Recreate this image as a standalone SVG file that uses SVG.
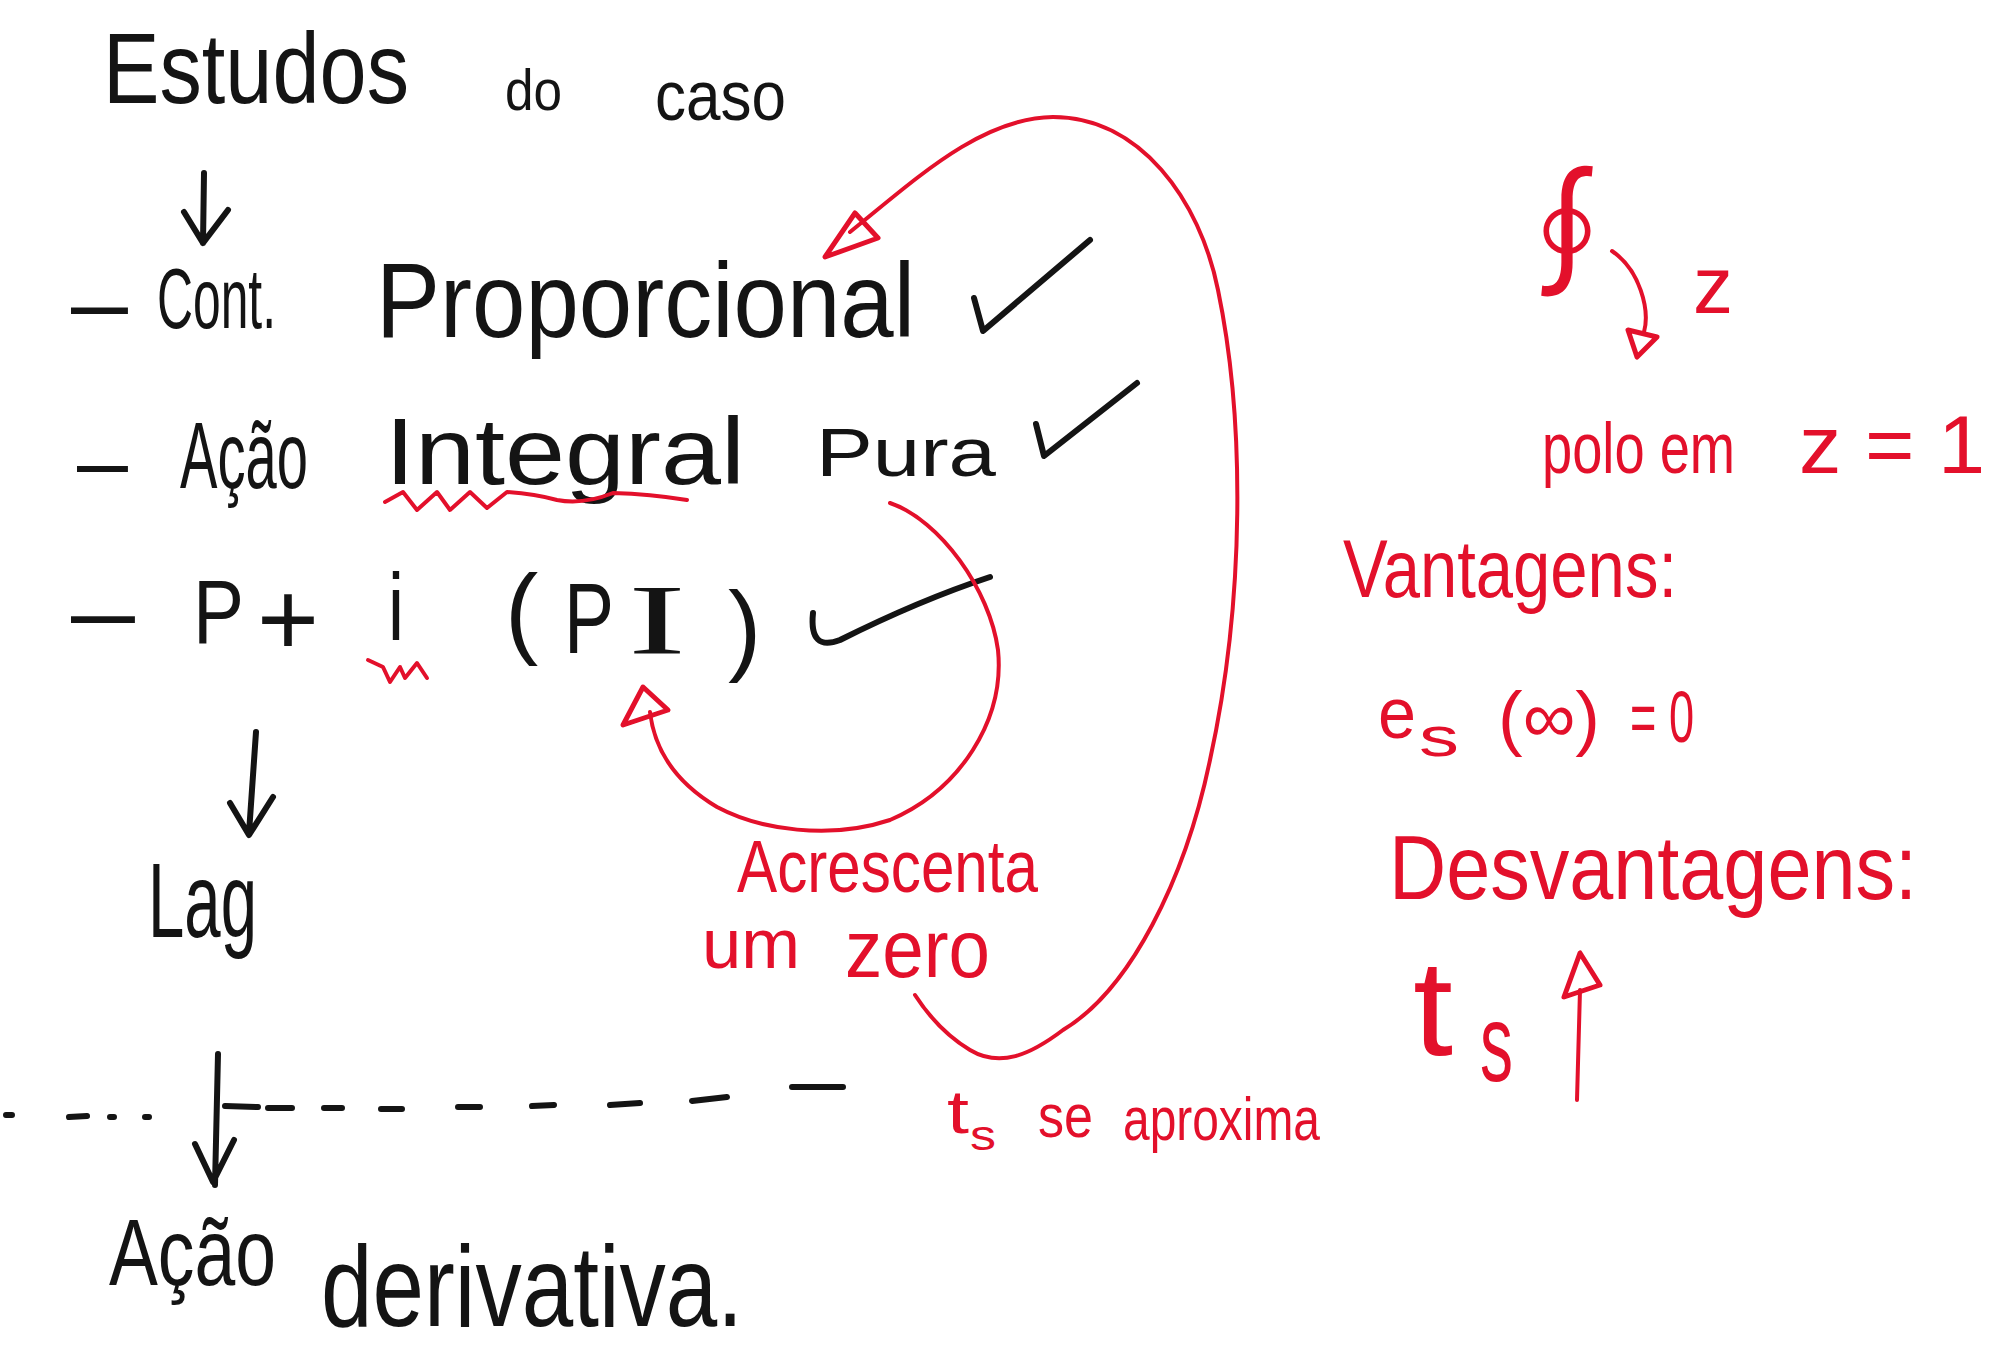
<svg xmlns="http://www.w3.org/2000/svg" width="2015" height="1359" viewBox="0 0 2015 1359">
<style>
text { font-family: "Liberation Sans", "DejaVu Sans", sans-serif; }
.k { fill: #141414; }
.r { fill: #e3102b; }
.ks { fill: none; stroke: #141414; stroke-width: 6; stroke-linecap: round; stroke-linejoin: round; }
.rs { fill: none; stroke: #e3102b; stroke-width: 4; stroke-linecap: round; stroke-linejoin: round; }
.rh { fill: none; stroke: #e3102b; stroke-width: 5; stroke-linejoin: round; }
</style>
<rect width="2015" height="1359" fill="#ffffff"/>

<g id="title">
  <text class="k" x="103" y="103" font-size="100" textLength="306" lengthAdjust="spacingAndGlyphs">Estudos</text>
  <text class="k" x="505" y="110" font-size="58" textLength="57" lengthAdjust="spacingAndGlyphs">do</text>
  <text class="k" x="655" y="120" font-size="70" textLength="131" lengthAdjust="spacingAndGlyphs">caso</text>
</g>

<g id="item-proporcional">
  <text class="k" x="71" y="335" font-size="96" textLength="57" lengthAdjust="spacingAndGlyphs">–</text>
  <text class="k" x="157" y="328" font-size="85" textLength="119" lengthAdjust="spacingAndGlyphs">Cont.</text>
  <text class="k" x="376" y="337" font-size="105" textLength="539" lengthAdjust="spacingAndGlyphs">Proporcional</text>
  <path class="ks" d="M974,298 L983,331 L1090,240"/>
</g>

<g id="item-integral">
  <text class="k" x="77" y="492" font-size="90" textLength="51" lengthAdjust="spacingAndGlyphs">–</text>
  <text class="k" x="180" y="488" font-size="95" textLength="128" lengthAdjust="spacingAndGlyphs">Ação</text>
  <text class="k" x="385" y="484" font-size="95" textLength="360" lengthAdjust="spacingAndGlyphs">Integral</text>
  <text class="k" x="816" y="476" font-size="68" textLength="180" lengthAdjust="spacingAndGlyphs">Pura</text>
  <path class="ks" d="M1036,424 L1044,456 L1137,383"/>
  <path class="rs" d="M385,502 L403,492 L417,510 L437,492 L450,510 L470,492 L487,508 L507,492 Q535,494 557,500 Q583,505 613,493 Q650,494 687,500"/>
</g>

<g id="item-pi">
  <text class="k" x="71" y="645" font-size="100" textLength="64" lengthAdjust="spacingAndGlyphs">–</text>
  <text class="k" x="193" y="643" font-size="90" textLength="51" lengthAdjust="spacingAndGlyphs">P</text>
  <text class="k" x="257" y="655" font-size="106" textLength="62" lengthAdjust="spacingAndGlyphs">+</text>
  <text class="k" x="388" y="640" font-size="95" textLength="16" lengthAdjust="spacingAndGlyphs">i</text>
  <path class="rs" d="M368,660 L383,667 L390,682 L400,667 L405,678 L417,663 L427,678"/>
  <text class="k" font-size="100"><tspan x="505" y="645">(</tspan><tspan x="564" y="653" textLength="50" lengthAdjust="spacingAndGlyphs">P</tspan><tspan x="628" y="653" font-family="Liberation Serif, serif" textLength="58" lengthAdjust="spacingAndGlyphs">I</tspan><tspan x="728" y="662">)</tspan></text>
  <path class="ks" d="M813,613 Q809,652 840,640 Q920,600 990,577"/>
</g>

<g id="item-lag">
  <text class="k" x="148" y="937" font-size="105" textLength="109" lengthAdjust="spacingAndGlyphs">Lag</text>
</g>

<g id="item-derivativa">
  <text class="k" x="109" y="1285" font-size="95" textLength="167" lengthAdjust="spacingAndGlyphs">Ação</text>
  <text class="k" x="321" y="1326" font-size="115" textLength="422" lengthAdjust="spacingAndGlyphs">derivativa.</text>
</g>

<g id="notes-red">
  <text class="r" x="737" y="892" font-size="75" textLength="301" lengthAdjust="spacingAndGlyphs">Acrescenta</text>
  <text class="r" x="702" y="968" font-size="70" textLength="98" lengthAdjust="spacingAndGlyphs">um</text>
  <text class="r" x="845" y="977" font-size="82" textLength="145" lengthAdjust="spacingAndGlyphs">zero</text>
  <text class="r" font-size="62"><tspan x="947" y="1133" textLength="22" lengthAdjust="spacingAndGlyphs">t</tspan><tspan x="970" y="1150" font-size="42" textLength="26" lengthAdjust="spacingAndGlyphs">s</tspan><tspan x="1038" y="1137" textLength="55" lengthAdjust="spacingAndGlyphs">se</tspan><tspan x="1123" y="1140" textLength="197" lengthAdjust="spacingAndGlyphs">aproxima</tspan></text>
</g>

<g id="notes-right">
  <text class="r" x="1497" y="284" font-size="140" style="font-family:'Noto Sans CJK JP','DejaVu Sans',sans-serif">∮</text>
  <text class="r" x="1693" y="313" font-size="80" textLength="40" lengthAdjust="spacingAndGlyphs">z</text>
  <text class="r" x="1542" y="473" font-size="72" textLength="193" lengthAdjust="spacingAndGlyphs">polo em</text>
  <text class="r" x="1799" y="473" font-size="82" textLength="186" lengthAdjust="spacingAndGlyphs">z = 1</text>
  <text class="r" x="1343" y="597" font-size="82" textLength="334" lengthAdjust="spacingAndGlyphs">Vantagens:</text>
  <text class="r" font-size="72"><tspan x="1378" y="738" textLength="38" lengthAdjust="spacingAndGlyphs">e</tspan><tspan x="1419" y="756" font-size="55" textLength="40" lengthAdjust="spacingAndGlyphs">s</tspan><tspan x="1498" y="742" textLength="102" lengthAdjust="spacingAndGlyphs">(∞)</tspan><tspan x="1630" y="742" textLength="64" lengthAdjust="spacingAndGlyphs">= 0</tspan></text>
  <text class="r" x="1389" y="899" font-size="90" textLength="528" lengthAdjust="spacingAndGlyphs">Desvantagens:</text>
  <text class="r" font-size="135"><tspan x="1413" y="1055" textLength="40" lengthAdjust="spacingAndGlyphs">t</tspan><tspan x="1480" y="1081" font-size="110" textLength="33" lengthAdjust="spacingAndGlyphs">s</tspan></text>
</g>

<g id="connectors">
  <path class="ks" d="M204,173 L203,243 M184,212 L203,243 L228,210"/>
  <path class="ks" d="M256,732 L249,833 M230,803 L249,835 L273,797"/>
  <path class="ks" d="M218,1054 L215,1185 M195,1144 L213,1182 L234,1140"/>
  <path class="ks" stroke-width="7" d="M6,1115 L12,1115 M69,1117 L87,1116 M110,1117 L114,1117 M145,1117 L149,1117 M225,1106 L258,1107 M268,1108 L292,1108 M324,1108 L342,1108 M381,1109 L402,1109 M458,1107 L480,1107 M532,1106 L554,1105 M610,1105 L640,1103 M692,1101 L727,1097 M792,1087 L843,1087"/>
  <path class="rs" d="M850,232 C 915,180 980,118 1053,117 C 1140,117 1200,200 1218,290 C 1245,420 1245,600 1210,760 C 1185,880 1130,990 1063,1030 C 1030,1055 1000,1068 970,1050 C 945,1035 928,1015 915,995"/>
  <polygon class="rh" points="825,257 855,213 878,238"/>
  <path class="rs" d="M890,503 C 940,520 990,590 998,650 C 1005,720 960,790 890,820 C 830,840 760,830 717,807 C 680,785 655,755 650,712"/>
  <polygon class="rh" points="623,725 643,687 668,710"/>
  <path class="rs" d="M1612,251 C 1640,270 1650,310 1644,332"/>
  <polygon class="rh" points="1637,357 1628,330 1657,337"/>
  <path class="rs" stroke-width="5" d="M1577,1100 L1580,990"/>
  <polygon class="rh" points="1580,953 1564,997 1600,985"/>
</g>
</svg>
